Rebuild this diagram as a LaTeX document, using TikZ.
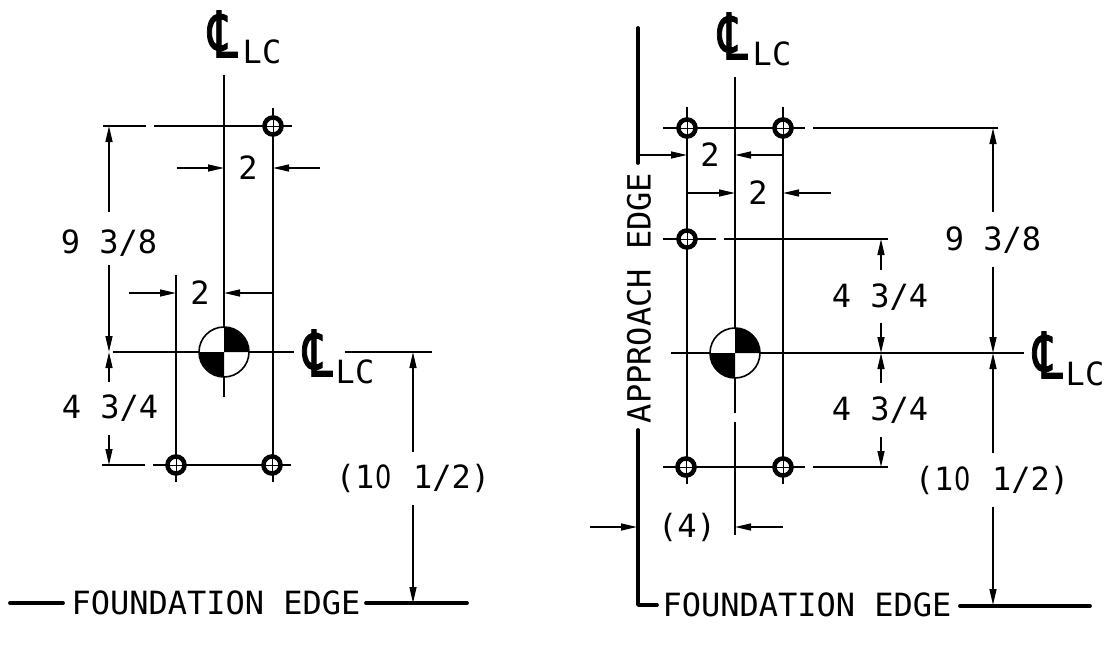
\documentclass[tikz,border=0pt]{standalone}
\usepackage{fontspec}
\usetikzlibrary{arrows.meta}
\setmonofont{DejaVu Sans Mono}
\newfontfamily\clfont{DejaVu Sans}
\newfontfamily\clbold[FakeBold=1.6]{DejaVu Sans}
\newcommand{\zr}{\makebox[14.45pt]{\clfont\scalebox{0.8}[1]{0}}}
\newcommand{\clmark}{\scalebox{0.72}[1]{℄}}
\tikzset{
  lab/.style={inner sep=0pt, font=\ttfamily\fontsize{24}{24}\selectfont},
  clsym/.style={inner sep=0pt, font=\clbold\fontsize{48}{48}\selectfont},
  bolt/.style={circle, draw, line width=3.4pt, minimum size=12.8pt, inner sep=0pt, fill=white, path picture={
    \draw [line width=0.7pt] (path picture bounding box.west) -- (path picture bounding box.east);
    \draw [line width=0.7pt] (path picture bounding box.north) -- (path picture bounding box.south);}},
  dim/.style={line width=1.2pt, -{Stealth[inset=0pt, length=12pt, width=5.2pt]}},
  thin line/.style={line width=1.2pt},
  edge line/.style={line width=2.8pt, line cap=round, line join=round}
}
\begin{document}
\begin{tikzpicture}[x=0.75pt, y=-0.75pt]
\useasboundingbox (0,0) rectangle (1107,646);

\draw [thin line] (224,75) -- (224,397);
\draw [thin line] (273,108) -- (273,482);
\draw [thin line] (176,275) -- (176,482);
\draw [thin line] (103,126) -- (146,126);
\draw [thin line] (154,126) -- (292,126);
\draw [thin line] (102,465) -- (145,465);
\draw [thin line] (153,465) -- (291,465);
\draw [thin line] (113,352) -- (294,352);
\draw [thin line] (345,352) -- (432,352);
\draw [edge line] (10,603) -- (63,603);
\draw [edge line] (366,603) -- (467,603);

\draw [dim] (109,212) -- (109,126);
\draw [dim] (109,265) -- (109,352);
\draw [dim] (109,382) -- (109,352);
\draw [dim] (109,435) -- (109,465);
\draw [dim] (177,168) -- (224,168);
\draw [dim] (320,168) -- (273,168);
\draw [dim] (129,293) -- (176,293);
\draw [dim] (273,293) -- (224,293);
\draw [dim] (413,452) -- (413,352);
\draw [dim] (413,505) -- (413,603);

\draw [thin line] (735,77) -- (735,413);
\draw [thin line] (735,422) -- (735,535);
\draw [thin line] (687,107) -- (687,484);
\draw [thin line] (783,107) -- (783,484);
\draw [thin line] (663,128) -- (805,128);
\draw [thin line] (813,128) -- (998,128);
\draw [thin line] (663,239) -- (716,239);
\draw [thin line] (724,239) -- (888,239);
\draw [thin line] (671,353) -- (1024,353);
\draw [thin line] (663,467) -- (805,467);
\draw [thin line] (813,467) -- (888,467);
\draw [edge line] (638,28) -- (638,163);
\draw [edge line] (638,430) -- (638,605) -- (657,605);
\draw [edge line] (960,606) -- (1090,606);

\draw [dim] (638,155) -- (687,155);
\draw [dim] (783,155) -- (735,155);
\draw [dim] (687,193) -- (735,193);
\draw [dim] (831,193) -- (783,193);
\draw [dim] (881,270) -- (881,239);
\draw [dim] (881,323) -- (881,353);
\draw [dim] (881,383) -- (881,353);
\draw [dim] (881,437) -- (881,467);
\draw [dim] (993,212) -- (993,128);
\draw [dim] (993,267) -- (993,353);
\draw [dim] (993,453) -- (993,353);
\draw [dim] (993,507) -- (993,605);
\draw [dim] (590,527) -- (637,527);
\draw [dim] (783,527) -- (735,527);

\foreach \n/\x/\y in {a/273/126,b/176/465,c/272/465,d/687/128,e/783/128,f/687/239,g/686/467,h/783/467}{
\node [bolt] (bolt\n) at (\x,\y) {};
}
\foreach \x/\y in {224/352,735/353}{
\fill [white] (\x,\y) circle [radius=25];
\fill (\x,\y) -- (\x+25,\y) arc [start angle=0, end angle=-90, radius=25] -- cycle;
\fill (\x,\y) -- (\x-25,\y) arc [start angle=180, end angle=90, radius=25] -- cycle;
\draw [thin line] (\x,\y) circle [radius=25];
}

\node [clsym] (clonetop) at (223,34) {\clmark};
\node [lab] (lconetop) at (262,52) {LC};
\node [clsym] (clonemid) at (318,353) {\clmark};
\node [lab] (lconemid) at (355,372) {LC};
\node [lab] (twoa) at (248,168) {2};
\node [lab] (twob) at (200,293) {2};
\node [lab] (ninea) at (109,243) {9 3/8};
\node [lab] (foura) at (110,408) {4 3/4};
\node [lab] (tena) at (413,478) {(1\zr{} 1/2)};
\node [lab] (founda) at (216,603) {FOUNDATION EDGE};

\node [clsym] (cltwotop) at (733,36) {\clmark};
\node [lab] (lctwotop) at (772,54) {LC};
\node [clsym] (cltwomid) at (1048,355) {\clmark};
\node [lab] (lctwomid) at (1085,374) {LC};
\node [lab] (twoc) at (710,155) {2};
\node [lab] (twod) at (758,193) {2};
\node [lab] (nineb) at (993,240) {9 3/8};
\node [lab] (fourb) at (880,297) {4 3/4};
\node [lab] (fourc) at (880,410) {4 3/4};
\node [lab] (tenb) at (992,480) {(1\zr{} 1/2)};
\node [lab] (fourd) at (687,527) {(4)};
\node [lab] (foundb) at (807,605) {FOUNDATION EDGE};
\node [lab, rotate=90] (appr) at (639,298) {APPROACH EDGE};
\end{tikzpicture}
\end{document}
